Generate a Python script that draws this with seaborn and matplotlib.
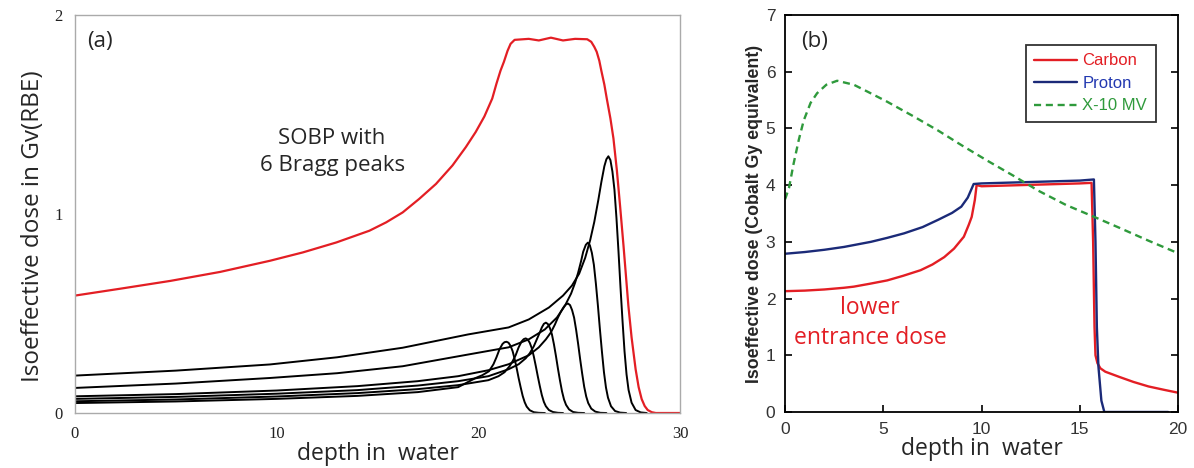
import numpy as np
import pandas as pd
import matplotlib
matplotlib.use("Agg")
import matplotlib.pyplot as plt
import seaborn as sns

# ---- panel (a): SOBP and the 6 Bragg peaks (depth, dose) ----
sobp_x = [0, 2.27, 4.74, 7.2, 9.67, 11.3, 12.96, 14.6, 15.43, 16.25, 17.07, 17.9, 18.72,
          19.38, 19.87, 20.3, 20.69, 20.9, 21.1, 21.27, 21.45, 21.6, 21.8, 22.5, 23.0, 23.6, 24.2,
          24.8, 25.4, 25.6, 25.75, 25.87, 26.0, 26.1, 26.25, 26.37, 26.55, 26.7, 26.87, 27.03,
          27.2, 27.44, 27.6, 27.8, 27.95, 28.1, 28.25, 28.4, 28.6, 28.8, 30]
sobp_y = [0.59, 0.625, 0.664, 0.709, 0.765, 0.807, 0.857, 0.916, 0.958, 1.008, 1.076, 1.151,
          1.244, 1.336, 1.412, 1.49, 1.58, 1.655, 1.72, 1.765, 1.82, 1.855, 1.875, 1.88, 1.872,
          1.886, 1.872, 1.88, 1.878, 1.865, 1.84, 1.815, 1.77, 1.72, 1.65, 1.58, 1.48, 1.38,
          1.22, 1.04, 0.84, 0.54, 0.38, 0.22, 0.13, 0.07, 0.035, 0.015, 0.004, 0.0, 0.0]

peak1_x = [0, 5, 10, 14, 17, 19, 19.87, 20.2, 20.53, 20.75, 20.9, 21.05, 21.2, 21.3, 21.4,
           21.5, 21.6, 21.7, 21.8, 21.9, 22.0, 22.1, 22.2, 22.3, 22.4, 22.55, 22.75, 23.0, 23.3]
peak1_y = [0.05, 0.058, 0.071, 0.086, 0.105, 0.13, 0.176, 0.19, 0.21, 0.245, 0.28, 0.32, 0.347,
           0.356, 0.358, 0.353, 0.337, 0.311, 0.272, 0.226, 0.175, 0.129, 0.086, 0.054, 0.032,
           0.014, 0.004, 0.001, 0.0]

peak2_x = [0, 5, 10, 14, 17, 19, 20.5, 21.0, 21.3, 21.55, 21.7, 21.85, 22.0, 22.15, 22.25, 22.35,
           22.45, 22.55, 22.65, 22.75, 22.85, 22.95, 23.05, 23.15, 23.25, 23.35, 23.5, 23.7, 23.95, 24.2]
peak2_y = [0.059, 0.068, 0.083, 0.1, 0.12, 0.14, 0.165, 0.185, 0.205, 0.235, 0.26, 0.29, 0.33,
           0.36, 0.371, 0.375, 0.369, 0.353, 0.326, 0.285, 0.236, 0.184, 0.135, 0.09, 0.056,
           0.034, 0.015, 0.005, 0.001, 0.0]

peak3_x = [0, 5, 10, 14, 17, 19, 20.5, 21.5, 22.0, 22.35, 22.55, 22.75, 22.9, 23.05, 23.15, 23.25,
           23.35, 23.45, 23.55, 23.65, 23.75, 23.85, 23.95, 24.05, 24.15, 24.25, 24.35, 24.5, 24.7,
           24.95, 25.25]
peak3_y = [0.071, 0.081, 0.097, 0.115, 0.138, 0.16, 0.185, 0.22, 0.245, 0.275, 0.3, 0.335, 0.37,
           0.405, 0.43, 0.448, 0.454, 0.447, 0.427, 0.395, 0.345, 0.286, 0.222, 0.163, 0.109,
           0.068, 0.041, 0.018, 0.005, 0.001, 0.0]

peak4_x = [0, 5, 10, 14, 17, 19, 20.5, 21.5, 22.5, 23.0, 23.35, 23.6, 23.8, 23.95, 24.1, 24.25,
           24.35, 24.45, 24.55, 24.65, 24.75, 24.85, 24.95, 25.05, 25.15, 25.25, 25.35, 25.45,
           25.6, 25.8, 26.05, 26.35]
peak4_y = [0.084, 0.095, 0.113, 0.135, 0.16, 0.185, 0.215, 0.245, 0.29, 0.33, 0.37, 0.405, 0.445,
           0.48, 0.51, 0.535, 0.546, 0.55, 0.542, 0.517, 0.479, 0.418, 0.347, 0.27, 0.198, 0.132,
           0.083, 0.05, 0.022, 0.007, 0.001, 0.0]

peak5_x = [0, 5, 9.67, 13, 16.25, 19.5, 21.5, 22.5, 23.3, 23.9, 24.3, 24.6, 24.8, 24.95, 25.1,
           25.2, 25.33, 25.43, 25.53, 25.63, 25.73, 25.83, 25.93, 26.03, 26.13, 26.23, 26.33,
           26.43, 26.58, 26.78, 27.03, 27.33]
peak5_y = [0.126, 0.148, 0.176, 0.2, 0.235, 0.294, 0.33, 0.37, 0.42, 0.48, 0.54, 0.6, 0.655,
           0.705, 0.765, 0.81, 0.845, 0.856, 0.843, 0.805, 0.745, 0.65, 0.54, 0.42, 0.308, 0.205,
           0.128, 0.077, 0.034, 0.01, 0.002, 0.0]

peak6_x = [0, 5, 9.67, 13, 16.25, 19.5, 21.5, 22.5, 23.5, 24.2, 24.64, 25.0, 25.3, 25.55, 25.75,
           25.95, 26.1, 26.25, 26.35, 26.45, 26.55, 26.65, 26.75, 26.85, 26.95, 27.05, 27.15,
           27.25, 27.35, 27.45, 27.6, 27.8, 28.05, 28.35]
peak6_y = [0.188, 0.213, 0.244, 0.28, 0.328, 0.395, 0.43, 0.47, 0.53, 0.59, 0.64, 0.7, 0.78,
           0.87, 0.96, 1.07, 1.16, 1.24, 1.275, 1.29, 1.271, 1.213, 1.122, 0.98, 0.813, 0.632,
           0.464, 0.31, 0.194, 0.116, 0.052, 0.015, 0.003, 0.0]

peaks = [(peak1_x, peak1_y), (peak2_x, peak2_y), (peak3_x, peak3_y),
         (peak4_x, peak4_y), (peak5_x, peak5_y), (peak6_x, peak6_y)]

# ---- panel (b): Carbon, Proton, X-10 MV ----
carbon_x = [0, 1, 2, 3, 3.5, 4.3, 5.2, 6, 6.9, 7.5, 8.1, 8.6, 9.1, 9.35, 9.5, 9.66, 9.75,
            10, 11, 12, 13, 14, 15, 15.6, 15.68, 15.75, 15.8, 15.9, 16.05, 16.3, 17, 17.73, 18.5, 19.3, 20]
carbon_y = [2.13, 2.14, 2.16, 2.19, 2.21, 2.26, 2.32, 2.4, 2.5, 2.6, 2.73, 2.88, 3.09, 3.3, 3.44, 3.74, 4.0,
            3.98, 3.99, 4.0, 4.01, 4.02, 4.03, 4.04, 3.0, 1.5, 1.0, 0.86, 0.77, 0.71, 0.62, 0.53, 0.45, 0.39, 0.34]

proton_x = [0, 1, 2, 3, 4.37, 5.2, 6.06, 7, 7.8, 8.5, 8.97, 9.3, 9.6, 10, 11, 12, 13, 14, 15,
            15.72, 15.8, 15.87, 15.95, 16.1, 16.25, 19.5]
proton_y = [2.79, 2.82, 2.86, 2.91, 3.0, 3.07, 3.15, 3.26, 3.39, 3.51, 3.62, 3.78, 4.02, 4.03, 4.04,
            4.05, 4.06, 4.07, 4.08, 4.1, 3.0, 1.5, 0.8, 0.2, 0.0, 0.0]

xray_x = [0, 0.2, 0.43, 0.7, 0.95, 1.3, 1.63, 2.1, 2.65, 3.5, 4.3, 5.2, 6.5, 7.8, 9, 10.3,
          11.6, 12.9, 14.3, 15.8, 17, 18.5, 20]
xray_y = [3.75, 3.95, 4.37, 4.8, 5.14, 5.45, 5.62, 5.77, 5.84, 5.77, 5.63, 5.47, 5.22, 4.96, 4.7, 4.43,
          4.17, 3.9, 3.65, 3.43, 3.25, 3.02, 2.8]

RED = "#e31e24"
NAVY = "#1b2a78"
GREEN = "#2f9a3c"

sns.set_style("white")
plt.rcParams["font.family"] = ["Open Sans", "DejaVu Sans"]

fig = plt.figure(figsize=(11.94, 4.68), dpi=100)
ax1 = fig.add_axes([0.0628, 0.1175, 0.5067, 0.8505])
ax2 = fig.add_axes([0.6575, 0.1197, 0.3291, 0.8483])

# panel (a)
for px, py in peaks:
    sns.lineplot(x=px, y=py, ax=ax1, color="black", lw=1.4, estimator=None, sort=False)
sns.lineplot(x=sobp_x, y=sobp_y, ax=ax1, color=RED, lw=1.6, estimator=None, sort=False)

ax1.set_xlim(0, 30)
ax1.set_ylim(0, 2)
ax1.set_xticks([0, 10, 20, 30])
ax1.set_yticks([0, 1, 2])
ax1.tick_params(direction="in", length=5, width=0.8, color="#888888", pad=9,
                labelsize=12, labelcolor="#222222")
for lab in ax1.get_xticklabels() + ax1.get_yticklabels():
    lab.set_family("Liberation Serif")
for s in ax1.spines.values():
    s.set_color("#aaaaaa")
    s.set_linewidth(1.0)
ax1.set_xlabel("depth in  water", fontsize=16.5, labelpad=0)
ax1.set_ylabel("Isoeffective dose in Gv(RBE)", fontsize=17.5)
ax1.yaxis.set_label_coords(-0.05, 0.47)
ax1.text(0.02, 0.96, "(a)", transform=ax1.transAxes, fontsize=16, va="top")
ax1.text(0.425, 0.655, "SOBP with\n6 Bragg peaks", transform=ax1.transAxes, fontsize=16,
         ha="center", va="center", linespacing=1.35)

# panel (b)
sns.lineplot(x=carbon_x, y=carbon_y, ax=ax2, color=RED, lw=1.7, estimator=None, sort=False, label="Carbon")
sns.lineplot(x=proton_x, y=proton_y, ax=ax2, color=NAVY, lw=1.7, estimator=None, sort=False, label="Proton")
sns.lineplot(x=xray_x, y=xray_y, ax=ax2, color=GREEN, lw=1.7, estimator=None, sort=False,
             label="X-10 MV", linestyle=(0, (3, 2)))

ax2.set_xlim(0, 20)
ax2.set_ylim(0, 7)
ax2.set_xticks([0, 5, 10, 15, 20])
ax2.set_yticks(range(8))
ax2.tick_params(direction="in", length=5, width=1.2, color="black", right=True, left=True,
                bottom=True, pad=7, labelsize=12.5, labelcolor="#333333")
for lab in ax2.get_xticklabels() + ax2.get_yticklabels():
    lab.set_family("Liberation Sans")
for s in ax2.spines.values():
    s.set_color("black")
    s.set_linewidth(1.3)
ax2.set_xlabel("depth in  water", fontsize=16.5, labelpad=0)
ax2.set_ylabel("Isoeffective dose (Cobalt Gy equivalent)", fontsize=12.8, fontweight="bold",
               family="Liberation Sans", labelpad=2)
ax2.text(0.04, 0.96, "(b)", transform=ax2.transAxes, fontsize=16, va="top")
ax2.text(0.216, 0.261, "lower", transform=ax2.transAxes, fontsize=16.5,
         color=RED, ha="center", va="center")
ax2.text(0.216, 0.186, "entrance dose", transform=ax2.transAxes, fontsize=16.5,
         color=RED, ha="center", va="center")

leg = ax2.legend(loc="upper right", bbox_to_anchor=(0.964, 0.945), frameon=True, fancybox=False,
                 edgecolor="black", handlelength=2.6, handletextpad=0.3,
                 borderpad=0.5, labelspacing=0.45, prop={"family": "Liberation Sans", "size": 12})
leg.get_frame().set_linewidth(1.3)
for txt, c in zip(leg.get_texts(), [RED, "#2238b0", GREEN]):
    txt.set_color(c)

fig.savefig("out.png", dpi=100, facecolor="white")
